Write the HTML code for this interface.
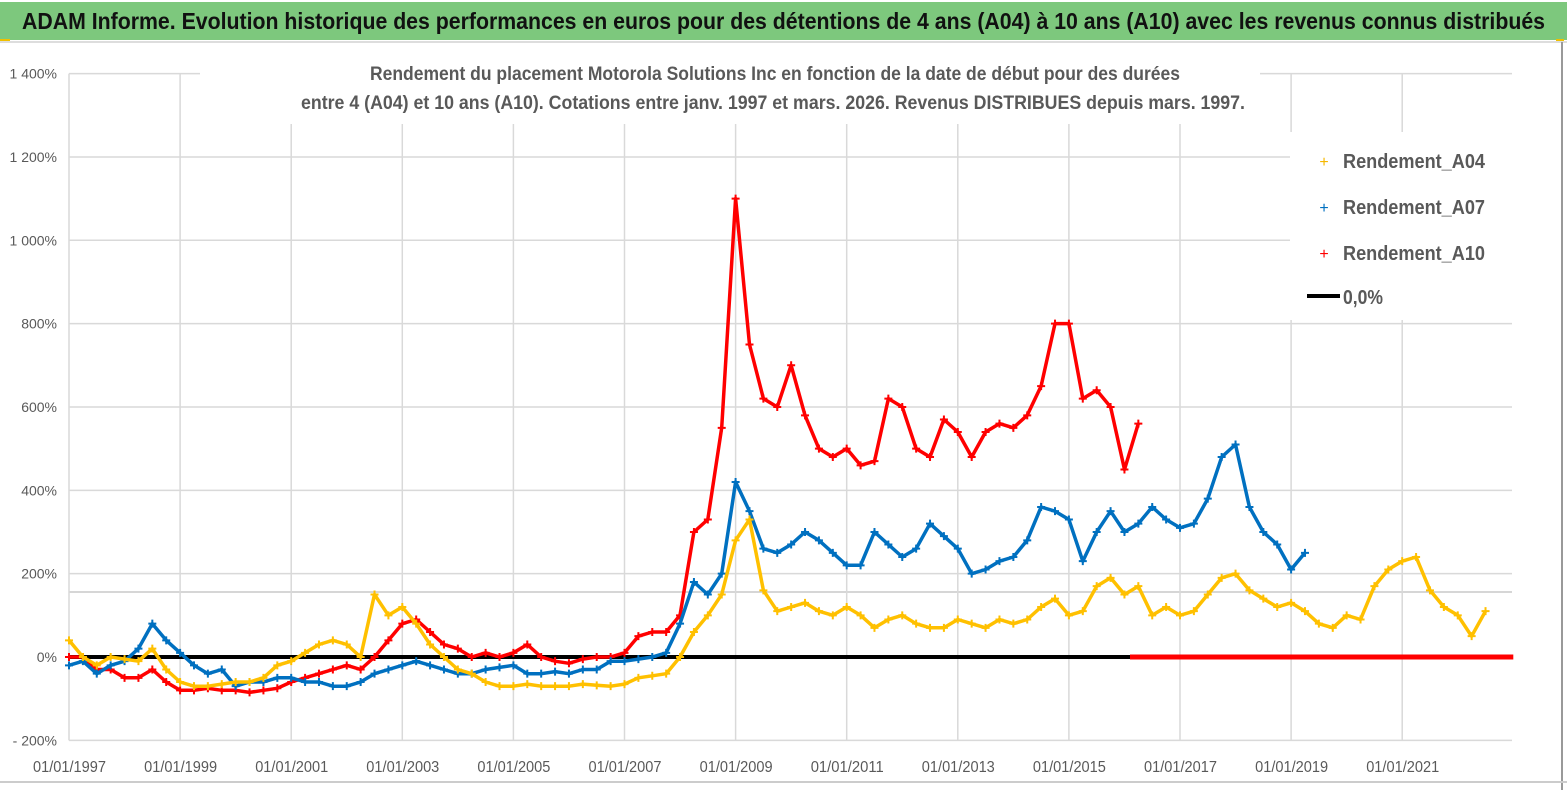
<!DOCTYPE html>
<html><head><meta charset="utf-8"><style>
body{margin:0;width:1567px;height:790px;background:#fff;overflow:hidden;font-family:"Liberation Sans Narrow","Liberation Sans",sans-serif;}
</style></head><body>
<svg width="1567" height="790" xmlns="http://www.w3.org/2000/svg">
<rect x="0" y="0" width="1567" height="790" fill="#fff"/>
<rect x="0" y="2" width="1567" height="38" fill="#7dc87d"/>
<rect x="0" y="39" width="10" height="4" fill="#f0c000"/>
<rect x="1556" y="39" width="8" height="4" fill="#f0c000"/>
<line x1="0" y1="42" x2="1567" y2="42" stroke="#ddd" stroke-width="2"/>
<line x1="1562" y1="42" x2="1562" y2="790" stroke="#999" stroke-width="2"/>
<line x1="0" y1="782" x2="1567" y2="782" stroke="#ccc" stroke-width="2"/>
<text x="22" y="29" textLength="1523" lengthAdjust="spacingAndGlyphs" font-size="23" font-weight="bold" fill="#111">ADAM Informe. Evolution historique des performances en euros pour des détentions de 4 ans (A04) à 10 ans (A10) avec les revenus connus distribués</text>
<g id="grid"></g>
<rect x="200" y="58" width="1060" height="66" fill="#fff"/>
<text x="370" y="80" textLength="810" lengthAdjust="spacingAndGlyphs" font-size="19" font-weight="bold" fill="#595959">Rendement du placement Motorola Solutions Inc en fonction de la date de début pour des durées</text>
<text x="301" y="109" textLength="944" lengthAdjust="spacingAndGlyphs" font-size="19" font-weight="bold" fill="#595959">entre 4 (A04) et 10 ans (A10). Cotations entre janv. 1997 et mars. 2026. Revenus DISTRIBUES depuis mars. 1997.</text>
<g id="series"></g>
<g id="legend">
<rect x="1290" y="132" width="222" height="188" fill="#fff"/>
<text x="1324" y="167" text-anchor="middle" font-size="16" fill="#f5b800">+</text>
<text x="1343" y="168" textLength="142" lengthAdjust="spacingAndGlyphs" font-size="20" font-weight="bold" fill="#595959">Rendement_A04</text>
<text x="1324" y="213" text-anchor="middle" font-size="16" fill="#0070c0">+</text>
<text x="1343" y="214" textLength="142" lengthAdjust="spacingAndGlyphs" font-size="20" font-weight="bold" fill="#595959">Rendement_A07</text>
<text x="1324" y="259" text-anchor="middle" font-size="16" fill="#ff0000">+</text>
<text x="1343" y="260" textLength="142" lengthAdjust="spacingAndGlyphs" font-size="20" font-weight="bold" fill="#595959">Rendement_A10</text>
<line x1="1307" y1="296" x2="1340" y2="296" stroke="#000" stroke-width="4"/>
<text x="1343" y="304" textLength="40" lengthAdjust="spacingAndGlyphs" font-size="20" font-weight="bold" fill="#595959">0,0%</text>
</g>
</svg>
<script>
const yTicks=[-200,0,200,400,600,800,1000,1200,1400];
const yTickLabels=["- 200%","0%","200%","400%","600%","800%","1 000%","1 200%","1 400%"];
const xTicks=[1997,1999,2001,2003,2005,2007,2009,2011,2013,2015,2017,2019,2021];
const xTickLabels=["01/01/1997","01/01/1999","01/01/2001","01/01/2003","01/01/2005","01/01/2007","01/01/2009","01/01/2011","01/01/2013","01/01/2015","01/01/2017","01/01/2019","01/01/2021"];
const a04=[40,0,-20,0, -5,-10,20,-30, -60,-70,-70,-65, -60,-60,-50,-20, -10,10,30,40, 30,0,150,100, 120,80,30,0, -30,-40,-60,-70, -70,-65,-70,-70, -70,-65,-68,-70, -65,-50,-45,-40, 0,60,100,150, 280,330,160,110, 120,130,110,100, 120,100,70,90, 100,80,70,70, 90,80,70,90, 80,90,120,140, 100,110,170,190, 150,170,100,120, 100,110,150,190, 200,160,140,120, 130,110,80,70, 100,90,170,210, 230,240,160,120, 100,50,110];
const a07=[-20,-10,-40,-20, -10,20,80,40, 10,-20,-40,-30, -70,-60,-60,-50, -50,-60,-60,-70, -70,-60,-40,-30, -20,-10,-20,-30, -40,-40,-30,-25, -20,-40,-40,-35, -40,-30,-30,-10, -10,-5,0,10, 80,180,150,200, 420,350,260,250, 270,300,280,250, 220,220,300,270, 240,260,320,290, 260,200,210,230, 240,280,360,350, 330,230,300,350, 300,320,360,330, 310,320,380,480, 510,360,300,270, 210,250];
const a10=[0,0,-30,-30, -50,-50,-30,-60, -80,-80,-75,-80, -80,-85,-80,-75, -60,-50,-40,-30, -20,-30,0,40, 80,90,60,30, 20,0,10,0, 10,30,0,-10, -15,-5,0,0, 10,50,60,60, 100,300,330,550, 1100,750,620,600, 700,580,500,480, 500,460,470,620, 600,500,480,570, 540,480,540,560, 550,580,650,800, 800,620,640,600, 450,560];
const startYear=1997, step=0.25, zeroEnd=2016.1, axisEnd=2023;
const X=t=>69+(t-1997)*55.55, Y=v=>657-v*0.4167;
const NS="http://www.w3.org/2000/svg";
const svg=document.querySelector('svg');
const grid=document.getElementById('grid'), ser=document.getElementById('series');
function mk(tag,attrs,parent){const e=document.createElementNS(NS,tag);for(const k in attrs)e.setAttribute(k,attrs[k]);parent.appendChild(e);return e;}
yTicks.forEach((v,i)=>{
  const l=mk('line',{x1:69,x2:1512,y1:Y(v),y2:Y(v),stroke:'#d9d9d9','stroke-width':1.5},grid);
  
  
  const t=mk('text',{x:57,y:Y(v)+5,'text-anchor':'end','font-size':14,fill:'#595959'},grid);
  t.textContent=yTickLabels[i];
  
  
});
const ref=mk('line',{x1:69,x2:1512,y1:592,y2:592,stroke:'#c8c8c8','stroke-width':1.5},grid);


xTicks.forEach((yr,i)=>{
  const l=mk('line',{x1:X(yr),x2:X(yr),y1:Y(1400),y2:Y(-200),stroke:'#d9d9d9','stroke-width':1.5},grid);
  
  
  const t=mk('text',{x:X(yr)-36,y:772,textLength:73,lengthAdjust:'spacingAndGlyphs','font-size':16,fill:'#595959'},grid);
  t.textContent=xTickLabels[i];
  
  
});
const z=mk('line',{x1:X(1997),x2:X(zeroEnd),y1:Y(0),y2:Y(0),stroke:'#000','stroke-width':4},ser);


const zr=mk('line',{x1:X(zeroEnd),x2:X(axisEnd),y1:Y(0),y2:Y(0),stroke:'#ff0000','stroke-width':5},ser);


function drawSeries(vals,color,name){
  const g=mk('g',{},ser);
  
  
  const pts=vals.map((v,i)=>X(startYear+i*step).toFixed(1)+','+Y(v).toFixed(1)).join(' ');
  const pl=mk('polyline',{points:pts,fill:'none',stroke:color,'stroke-width':3.5,'stroke-linejoin':'round'},g);
  
  
  vals.forEach((v,i)=>{
    const x=X(startYear+i*step), y=Y(v);
    const p=mk('path',{d:`M${x-4},${y}h8M${x},${y-4}v8`,stroke:color,'stroke-width':2},g);
    
    
  });
}
drawSeries(a10,'#ff0000','series-a10');
drawSeries(a07,'#0070c0','series-a07');
drawSeries(a04,'#ffc000','series-a04');
svg.appendChild(document.getElementById('legend'));
</script>
</body></html>
